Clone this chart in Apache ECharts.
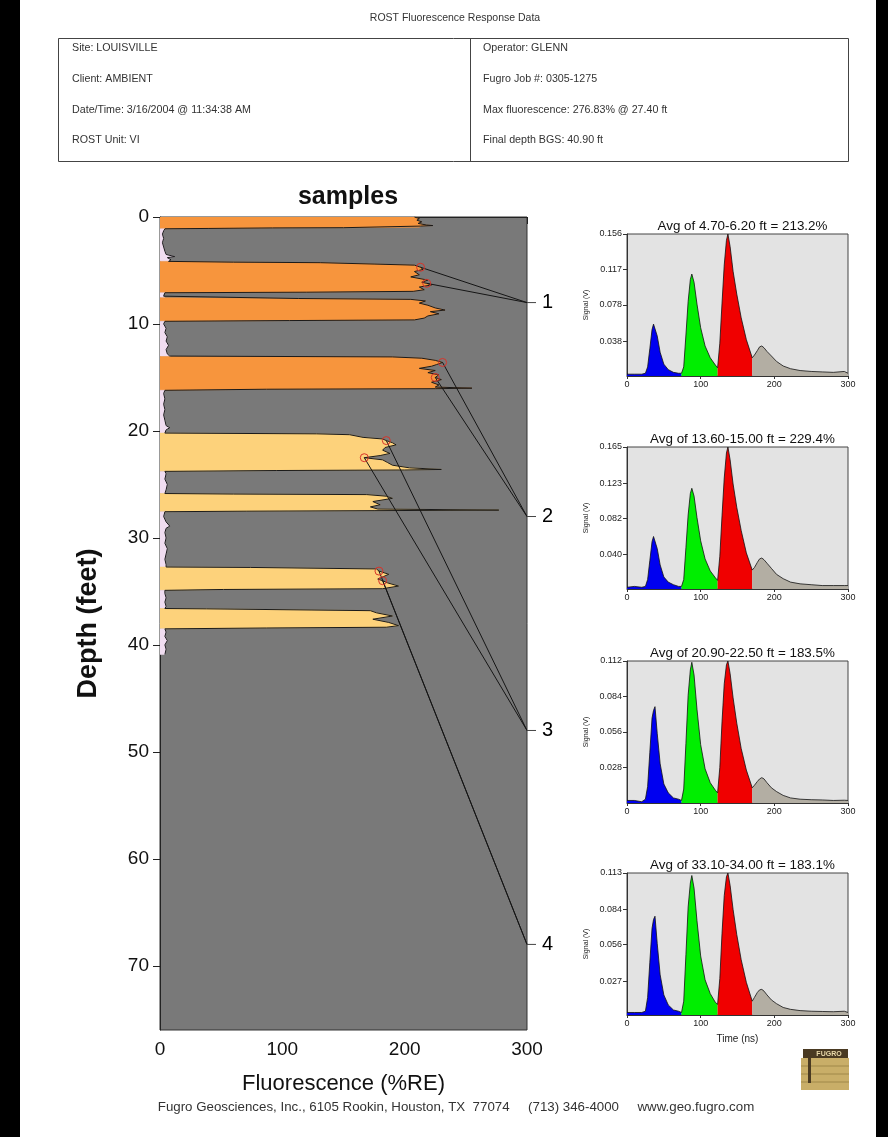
<!DOCTYPE html>
<html><head><meta charset="utf-8">
<script src="https://cdn.jsdelivr.net/npm/echarts@6/dist/echarts.min.js"></script>
<style>html,body{margin:0;padding:0;background:#fff}#c{width:888px;height:1137px}</style>
</head><body><div id="c"></div>
<script>
// ---------- main log: depth (ft) vs fluorescence (%RE) ----------
const depthFt = [
 0.00,0.15,0.30,0.45,0.60,0.75,0.80,0.85,0.95,1.00,1.02,1.07,1.10,
 1.3,1.6,2.0,2.4,2.8,3.2,3.5,3.7,3.8,4.0,4.15,
 4.22,4.27,4.40,4.50,4.70,4.90,5.10,5.40,5.60,5.90,6.10,6.20,6.35,6.55,6.80,6.95,7.03,7.08,
 7.2,7.4,7.55,
 7.62,7.70,7.85,8.05,8.25,8.50,8.70,8.85,9.05,9.25,9.45,9.62,9.68,9.75,
 10.0,10.4,10.8,11.2,11.6,12.0,12.4,12.8,13.0,13.05,
 13.08,13.2,13.4,13.6,13.8,13.95,14.15,14.35,14.55,14.75,15.0,15.2,15.45,15.7,15.9,16.0,16.05,16.1,16.2,
 16.5,17.0,17.5,18.0,18.5,19.0,19.5,19.7,19.9,20.2,
 20.27,20.35,20.6,20.75,20.9,21.1,21.3,21.55,21.8,22.1,22.3,22.5,22.7,22.95,23.2,23.45,23.6,23.65,23.7,23.78,
 24.0,24.5,25.0,25.5,25.85,
 25.9,25.95,26.1,26.3,26.6,26.9,27.1,27.3,27.4,27.45,27.5,27.55,
 28.0,28.5,28.9,29.1,29.5,30.0,30.5,31.0,31.5,32.0,32.5,32.72,
 32.76,32.9,33.1,33.4,33.6,33.85,34.0,34.2,34.5,34.75,34.82,34.9,
 35.2,35.6,36.0,36.4,36.6,
 36.63,36.8,37.0,37.3,37.6,37.9,38.2,38.35,38.42,38.5,
 38.8,39.2,39.6,40.0,40.4,40.9
];
const fluorPct = [
 208,212,210,214,211,218,223,213,212,150,92,40,4,
 3,2,3,2,3,4,5,12,6,9,7,
 60,131,175,208,213,215,208,212,205,219,214,218,222,212,216,207,120,4,
 3,3,4,
 113,205,217,212,219,225,233,221,228,219,216,208,106,4,
 3,5,4,6,5,7,5,6,8,9,
 190,214,225,231,226,222,212,225,219,228,225,230,222,228,225,255,225,87,4,
 3,4,3,4,3,4,5,8,5,4,
 128,155,166,182,185,190,193,184,182,188,180,167,182,186,190,204,230,200,95,4,
 5,4,6,5,4,
 60,169,185,190,174,180,172,178,277,175,71,4,
 3,5,8,5,4,5,4,6,5,4,5,5,
 74,177,179,187,183,178,182,186,195,182,52,4,
 4,5,4,5,4,
 38,172,177,190,174,187,195,185,87,4,
 5,4,6,4,5,4
];
// fluorescent zones and their response colour class
const zoneTop    = [0.00, 4.15, 7.55, 13.05, 20.20, 25.85, 32.72, 36.60];
const zoneBottom = [1.10, 7.08, 9.75, 16.20, 23.78, 27.55, 34.90, 38.50];
const zoneHue    = ['orange','orange','orange','orange','yellow','yellow','yellow','yellow'];
const depthTicks = [0,10,20,30,40,50,60,70];
const fluorTicks = [0,100,200,300];

// selected waveform samples
const sampleFrom = [4.70, 13.60, 20.90, 33.10];
const sampleTo   = [6.20, 15.00, 22.50, 34.00];
const sampleAvg  = ['213.2', '229.4', '183.5', '183.1'];
const sampleLabelDepth = [8, 28, 48, 68];

// ---------- waveforms: time (ns) vs signal (V) ----------
const timeNs = [0,10,20,25,28,31,34,36,38,41,45,50,56,63,70,74,77,80,83,86,88,91,95,100,106,113,120,123,126,129,132,135,137,140,144,149,155,162,170,173,177,180,183,186,190,196,203,212,222,235,250,265,280,295,300];
const wave1 = [0.002,0.002,0.002,0.003,0.010,0.030,0.051,0.057,0.059,0.044,0.026,0.013,0.007,0.004,0.003,
 0.003,0.010,0.045,0.082,0.106,0.112,0.103,0.079,0.053,0.033,0.020,0.012,0.009,0.036,0.080,
 0.122,0.149,0.156,0.142,0.115,0.090,0.064,0.040,0.020,0.023,0.028,0.032,0.033,0.031,0.027,
 0.022,0.016,0.011,0.008,0.006,0.005,0.0045,0.004,0.005,0.003];
const wave2 = [0.002,0.003,0.002,0.003,0.011,0.033,0.055,0.061,0.063,0.047,0.028,0.014,0.008,0.005,0.003,
 0.003,0.011,0.048,0.086,0.111,0.117,0.108,0.083,0.056,0.035,0.021,0.013,0.010,0.038,0.085,
 0.129,0.158,0.165,0.150,0.122,0.095,0.068,0.042,0.022,0.025,0.031,0.035,0.036,0.034,0.030,
 0.024,0.017,0.012,0.008,0.006,0.005,0.004,0.004,0.004,0.004];
const wave3 = [0.002,0.002,0.001,0.003,0.013,0.040,0.067,0.073,0.076,0.055,0.031,0.015,0.008,0.004,0.003,
 0.002,0.011,0.047,0.085,0.105,0.111,0.101,0.074,0.046,0.027,0.016,0.010,0.008,0.028,0.064,
 0.094,0.109,0.112,0.102,0.083,0.063,0.043,0.026,0.012,0.014,0.017,0.019,0.020,0.019,0.016,
 0.012,0.009,0.006,0.004,0.003,0.0026,0.0024,0.002,0.0022,0.002];
const wave4 = [0.002,0.002,0.002,0.003,0.014,0.042,0.069,0.076,0.0786,0.057,0.032,0.016,0.008,0.004,0.003,
 0.002,0.011,0.048,0.086,0.105,0.111,0.101,0.075,0.047,0.028,0.017,0.010,0.0085,0.029,0.065,
 0.095,0.110,0.113,0.103,0.084,0.064,0.044,0.026,0.011,0.014,0.018,0.020,0.0204,0.019,0.016,
 0.012,0.009,0.006,0.0045,0.0035,0.003,0.0028,0.0026,0.003,0.002];
const waveMax = [0.156, 0.165, 0.112, 0.113];
const waveTickLabels = [
 ['0.038','0.078','0.117','0.156'],
 ['0.040','0.082','0.123','0.165'],
 ['0.028','0.056','0.084','0.112'],
 ['0.027','0.056','0.084','0.113']
];
const timeTicks = [0,100,200,300];
const gateNs = [0, 74, 123, 170, 300];

// ---------- styles ----------
const FONT = "'Liberation Sans', Arial, sans-serif";
const hueColor = {orange:'#F7953D', yellow:'#FDD27B', low:'#F1DDF1'};
const gateColor = ['#0000F0', '#00EE00', '#F00000', '#B3AEA3'];
const waves = [wave1, wave2, wave3, wave4];
const smallTops = [234, 447, 661, 873];

function hueAt(d){
  for (let k=0;k<zoneTop.length;k++) if (d>=zoneTop[k] && d<=zoneBottom[k]) return zoneHue[k];
  return 'low';
}
// group consecutive segments of the same colour into polygons
const groups = [];
for (let i=0;i<depthFt.length-1;i++){
  const h = hueAt((depthFt[i]+depthFt[i+1])/2);
  let g = groups[groups.length-1];
  if (!g || g.hue!==h){ g = {hue:h, idx:[i]}; groups.push(g); }
  g.idx.push(i+1);
}
function flAt(d){ return fluorPct[depthFt.indexOf(d)]; }

const grids = [{left:160, top:217, width:367, height:813, show:true, backgroundColor:'#797979', borderColor:'#333', borderWidth:1}];
const xAxes = [{gridIndex:0, type:'value', min:0, max:300, interval:100,
  name:'Fluorescence (%RE)', nameLocation:'middle', nameGap:43,
  nameTextStyle:{fontFamily:FONT, fontSize:22, color:'#111'},
  axisLine:{show:true, lineStyle:{color:'#222'}}, axisTick:{show:true, length:7, lineStyle:{color:'#222'}, customValues:fluorTicks},
  axisLabel:{fontFamily:FONT, fontSize:19, color:'#111', margin:10, customValues:fluorTicks}, splitLine:{show:false}}];
const yAxes = [{gridIndex:0, type:'value', min:0, max:76, inverse:true,
  name:'Depth (feet)', nameLocation:'middle', nameGap:58, nameRotate:90,
  nameTextStyle:{fontFamily:FONT, fontSize:27, fontWeight:'bold', color:'#111'},
  axisLine:{show:true, lineStyle:{color:'#222'}}, axisTick:{show:true, length:7, lineStyle:{color:'#222'}, customValues:depthTicks},
  axisLabel:{fontFamily:FONT, fontSize:19, color:'#111', margin:11, customValues:depthTicks}, splitLine:{show:false}}];

const series = [
  {type:'custom', xAxisIndex:0, yAxisIndex:0, clip:true, z:1,
   data: groups.map(()=>[0,0]),
   renderItem:(params, api)=>{
     const g = groups[params.dataIndex];
     const pts = [api.coord([0, depthFt[g.idx[0]]])];
     g.idx.forEach(i=>pts.push(api.coord([fluorPct[i], depthFt[i]])));
     pts.push(api.coord([0, depthFt[g.idx[g.idx.length-1]]]));
     const c = hueColor[g.hue];
     return {type:'polygon', shape:{points:pts}, style:{fill:c, stroke:c, lineWidth:0.5}};
   }},
  {type:'line', xAxisIndex:0, yAxisIndex:0, z:2, showSymbol:false, animation:false,
   data: depthFt.map((d,i)=>[fluorPct[i], d]),
   lineStyle:{color:'#1a1a1a', width:1}},
  {type:'custom', xAxisIndex:0, yAxisIndex:0, clip:false, z:3,
   data: sampleFrom.map((d,i)=>[flAt(d), d]),
   renderItem:(params, api)=>{
     const i = params.dataIndex;
     const p1 = api.coord([flAt(sampleFrom[i]), sampleFrom[i]]);
     const p2 = api.coord([flAt(sampleTo[i]), sampleTo[i]]);
     const q = api.coord([300, sampleLabelDepth[i]]);
     const ln = (a,b,col)=>({type:'line', shape:{x1:a[0],y1:a[1],x2:b[0],y2:b[1]}, style:{stroke:col||'#151515', lineWidth:1}});
     return {type:'group', children:[
       ln(p1,q), ln(p2,q),
       {type:'circle', shape:{cx:p1[0],cy:p1[1],r:4}, style:{fill:null, stroke:'#D8342A', lineWidth:1}},
       {type:'circle', shape:{cx:p2[0],cy:p2[1],r:4}, style:{fill:null, stroke:'#D8342A', lineWidth:1}},
       ln(q,[q[0]+9,q[1]],'#444'),
       {type:'text', style:{text:String(i+1), x:q[0]+15, y:q[1], font:'20px '+FONT, fill:'#000', align:'left', verticalAlign:'middle'}}
     ]};
   }}
];

const titles = [{text:'samples', left:343, top:180, textAlign:'center', textStyle:{fontFamily:FONT, fontSize:25, fontWeight:'bold', color:'#111'}}];

waves.forEach((w, c)=>{
  const gi = c+1;
  grids.push({left:627, top:smallTops[c], width:221, height:142, show:true, backgroundColor:'#E3E3E3', borderColor:'#444', borderWidth:1});
  xAxes.push({gridIndex:gi, type:'value', min:0, max:300, interval:100,
    name: c===3 ? 'Time (ns)' : '', nameLocation:'middle', nameGap:19,
    nameTextStyle:{fontFamily:FONT, fontSize:10, color:'#222'},
    axisLine:{show:true, lineStyle:{color:'#333'}}, axisTick:{show:true, length:3, customValues:timeTicks},
    axisLabel:{fontFamily:FONT, fontSize:9, color:'#222', margin:4, customValues:timeTicks}, splitLine:{show:false}});
  const tv = waveTickLabels[c].map(Number);
  yAxes.push({gridIndex:gi, type:'value', min:0, max:waveMax[c],
    name:'Signal (V)', nameLocation:'middle', nameGap:37, nameRotate:90,
    nameTextStyle:{fontFamily:FONT, fontSize:7, color:'#222'},
    axisLine:{show:true, lineStyle:{color:'#333'}}, axisTick:{show:true, length:4, customValues:tv},
    axisLabel:{fontFamily:FONT, fontSize:9, color:'#222', margin:5, customValues:tv, formatter:(v)=>v.toFixed(3)}, splitLine:{show:false}});
  titles.push({text:'Avg of '+sampleFrom[c].toFixed(2)+'-'+sampleTo[c].toFixed(2)+' ft = '+sampleAvg[c]+'%',
    left:737.5, top:smallTops[c]-19, textAlign:'center', textStyle:{fontFamily:FONT, fontSize:13.4, fontWeight:'normal', color:'#111'}});
  for (let g=0; g<4; g++){
    const data = [];
    timeNs.forEach((t,i)=>{ if (t>=gateNs[g] && t<=gateNs[g+1]) data.push([t, w[i]]); });
    series.push({type:'line', xAxisIndex:gi, yAxisIndex:gi, showSymbol:false, z:2,
      data, lineStyle:{color:'#111', width:0.8}, areaStyle:{color:gateColor[g], opacity:1}});
  }
});

const leftRows = ['Site: LOUISVILLE','Client: AMBIENT','Date/Time: 3/16/2004 @ 11:34:38 AM','ROST Unit: VI'];
const rightRows = ['Operator: GLENN','Fugro Job #: 0305-1275','Max fluorescence: 276.83% @ 27.40 ft','Final depth BGS: 40.90 ft'];
const rowY = [48, 79, 110, 140];
const graphic = [
  {type:'rect', shape:{x:0,y:0,width:20,height:1137}, style:{fill:'#000'}},
  {type:'rect', shape:{x:876,y:0,width:12,height:1137}, style:{fill:'#000'}},
  {type:'text', style:{text:'ROST Fluorescence Response Data', x:455, y:18, align:'center', verticalAlign:'middle', font:'10.5px '+FONT, fill:'#333'}},
  {type:'rect', shape:{x:58.5,y:38.5,width:790,height:123}, style:{fill:null, stroke:'#444', lineWidth:1}},
  {type:'line', shape:{x1:470.5,y1:38.5,x2:470.5,y2:161.5}, style:{stroke:'#444', lineWidth:1}},
  {type:'text', style:{text:'Fugro Geosciences, Inc., 6105 Rookin, Houston, TX  77074     (713) 346-4000     www.geo.fugro.com', x:456, y:1107, align:'center', verticalAlign:'middle', font:'13.3px '+FONT, fill:'#333'}},
  // logo
  {type:'rect', shape:{x:801,y:1058,width:48,height:32}, style:{fill:'#C9AE68'}},
  {type:'line', shape:{x1:801,y1:1066,x2:849,y2:1066}, style:{stroke:'#A08848', lineWidth:1}},
  {type:'line', shape:{x1:801,y1:1074,x2:849,y2:1074}, style:{stroke:'#A08848', lineWidth:1}},
  {type:'line', shape:{x1:801,y1:1082,x2:849,y2:1082}, style:{stroke:'#A08848', lineWidth:1}},
  {type:'rect', shape:{x:803,y:1049,width:45,height:9}, style:{fill:'#4A3A22'}},
  {type:'rect', shape:{x:808,y:1049,width:3,height:34}, style:{fill:'#4A3A22'}},
  {type:'text', style:{text:'FUGRO', x:829, y:1054, align:'center', verticalAlign:'middle', font:'bold 7px '+FONT, fill:'#E8D8A8'}}
];
leftRows.forEach((t,i)=>graphic.push({type:'text', style:{text:t, x:72, y:rowY[i], verticalAlign:'middle', font:'10.7px '+FONT, fill:'#333'}}));
rightRows.forEach((t,i)=>graphic.push({type:'text', style:{text:t, x:483, y:rowY[i], verticalAlign:'middle', font:'10.7px '+FONT, fill:'#333'}}));

const chart = echarts.init(document.getElementById('c'), null, {renderer:'canvas'});
chart.setOption({animation:false, backgroundColor:'#fff', title:titles, grid:grids, xAxis:xAxes, yAxis:yAxes, series, graphic});
</script></body></html>
